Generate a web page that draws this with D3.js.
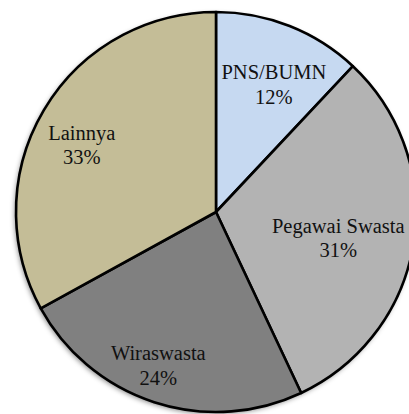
<!DOCTYPE html>
<html>
<head>
<meta charset="utf-8">
<script src="https://cdn.jsdelivr.net/npm/d3@7"></script>
<style>
  html, body { margin: 0; padding: 0; background: #ffffff; }
  svg { display: block; }
</style>
</head>
<body>
<svg id="chart" width="409" height="414"></svg>
<script>
// ---- data ----
const categories = ["PNS/BUMN", "Pegawai Swasta", "Wiraswasta", "Lainnya"];
const values = [12, 31, 24, 33];
const percentLabels = ["12%", "31%", "24%", "33%"];

// ---- styling / layout (not data) ----
const colors = ["#C6D9F1", "#B3B3B3", "#808080", "#C4BD97"];
// label placement: radius fraction and angular nudge (degrees) relative to slice mid-angle
const labelLayout = [
  { r: 0.70, dA: 2.8 },
  { r: 0.625, dA: 3.0 },
  { r: 0.82, dA: 2.6 },
  { r: 0.75, dA: -4.1 }
];

const width = 409, height = 414;
const cx = 216, cy = 212, R = 200;

const svg = d3.select("#chart");

const defs = svg.append("defs");
const f = defs.append("filter").attr("id", "shadow")
  .attr("x", "-10%").attr("y", "-10%").attr("width", "120%").attr("height", "120%");
f.append("feDropShadow")
  .attr("dx", -1.5).attr("dy", 2).attr("stdDeviation", 2.5)
  .attr("flood-color", "#000").attr("flood-opacity", 0.45);

const pie = d3.pie().sort(null).value(d => d);
const arcs = pie(values);
const arc = d3.arc().innerRadius(0).outerRadius(R);

const g = svg.append("g").attr("transform", `translate(${cx},${cy})`);

// shadow base
g.append("circle").attr("r", R).attr("fill", "#fff").attr("filter", "url(#shadow)");

g.selectAll("path.slice")
  .data(arcs)
  .join("path")
  .attr("class", "slice")
  .attr("d", arc)
  .attr("fill", (d, i) => colors[i])
  .attr("stroke", "#000")
  .attr("stroke-width", 2.6)
  .attr("stroke-linejoin", "round");

const fontSize = 20.5, lineH = 24.5;
const labels = g.selectAll("text.lbl")
  .data(arcs)
  .join("text")
  .attr("class", "lbl")
  .attr("text-anchor", "middle")
  .attr("font-family", "'Liberation Serif', 'Times New Roman', serif")
  .attr("font-size", fontSize)
  .attr("fill", "#111")
  .attr("transform", (d, i) => {
    const mid = (d.startAngle + d.endAngle) / 2 + labelLayout[i].dA * Math.PI / 180;
    const r = labelLayout[i].r * R;
    const x = Math.sin(mid) * r;
    const y = -Math.cos(mid) * r;
    return `translate(${x},${y})`;
  });

labels.append("tspan")
  .attr("x", 0)
  .attr("y", -lineH / 2 + fontSize * 0.33)
  .text((d, i) => categories[i]);
labels.append("tspan")
  .attr("x", 0)
  .attr("y", lineH / 2 + fontSize * 0.33)
  .text((d, i) => percentLabels[i]);
</script>
</body>
</html>
